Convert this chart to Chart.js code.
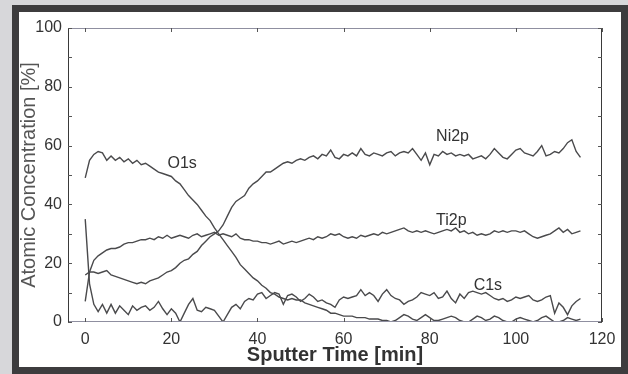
<!DOCTYPE html>
<html>
<head>
<meta charset="utf-8">
<script src="https://cdn.jsdelivr.net/npm/chart.js@4/dist/chart.umd.min.js"></script>
<style>
  html, body { margin:0; padding:0; }
  body { width:628px; height:374px; background:#d7d7da; position:relative; overflow:hidden; }
  #frame { position:absolute; left:12px; top:5px; width:602px; height:355px; border:7px solid #3d3c3e; background:#ffffff; }
  #wrap { position:absolute; left:0; top:0; width:628px; height:374px; }
</style>
</head>
<body>
<div id="frame"></div>
<div id="wrap"><canvas id="c" width="628" height="374"></canvas></div>
<script>
// ---- data ----
const time = [0,1,2,3,4,5,6,7,8,9,10,11,12,13,14,15,16,17,18,19,20,21,22,23,24,25,26,27,28,29,
  30,31,32,33,34,35,36,37,38,39,40,41,42,43,44,45,46,47,48,49,50,51,52,53,54,55,56,57,58,59,
  60,61,62,63,64,65,66,67,68,69,70,71,72,73,74,75,76,77,78,79,80,81,82,83,84,85,86,87,88,89,
  90,91,92,93,94,95,96,97,98,99,100,101,102,103,104,105,106,107,108,109,110,111,112,113,114,115];

const O1s = [49,55,57,58,57.5,55,56.5,55,56,54.5,55.5,54,55,53.5,54,53,52,51,50.5,50,
  49.5,48,47,45,43,41.5,40,38,36,34.5,32,30,28,26,24,22,19.5,18,16.5,15,
  14,12.5,11.5,10,9.5,8.5,8,7.5,8,7.5,7.5,6.5,6,5.5,5,4.5,4,3,3,2.5,
  2,2,2,1.5,1.5,1.5,1,1,1,0.5,0.5,0,0.5,1.5,2.5,2,1,0.5,1.5,2.5,
  1.5,0.5,0.5,1,1.5,2,1.5,0.5,0,0,1,2,1.5,0.5,1,2,1.5,0.5,0,0,
  1,1.5,1,0.5,0,0.5,1.5,2,1,0,0,0.5,1.5,1,0.5,1];

const Ni2p = [16,17,17,16.5,17,17.5,16,15.5,15,14.5,14,13.5,13,13.5,13,14,14.5,15,16,17,
  17.5,18.5,20,21,21.5,23,24,26,27.5,29,30,31,33,36,39,41,42,43,45.5,47,
  48,49.5,51,51,52,53,54,54.5,54,55,55.5,55,56,56.5,55.5,57,56.5,58.5,56,55.5,
  57,56.5,57.5,56.5,59,57,56.5,57.5,57,56.5,57.5,58,56.5,57.5,58,57.5,59,57,55,57.5,
  53.5,57,56.5,58,57,57.5,56.5,57,56.5,57,55.5,56,56.5,55.5,57,59,57.5,56,55.5,57,
  58.5,59,57.5,57,56.5,58,60,56.5,57,58,57.5,59,61,62,58,56];

const Ti2p = [7,17,21,22.5,23.5,24.5,25,25,25.5,26.5,27,27,27.5,28,28,28.5,28,29,28.5,29.5,
  28.5,29,29.5,29,28.5,29.5,30,29,29.5,30,30.5,29.5,30,29.5,29,30,28.5,28,28,27.5,
  27.5,27,27,26.5,27,27.5,26.5,27,27.5,27,27.5,28,28.5,28,29,28.5,29,30,29.5,30,
  29,28.5,29,28.5,29.5,29,29.5,30,29.5,30.5,30,30.5,31,31.5,32,31,30.5,31,30.5,31,
  30.5,30,30.5,31,31.5,31,32,30.5,31,30,30.5,29.5,30,29.5,30,31,30.5,31,30.5,31,
  31,30.5,31,30,29,28.5,29,29.5,30,31,32,30.5,31.5,30,30.5,31];

const C1s = [35,13,6,3.5,6,3,6,3,5.5,4,2.5,5.5,4,5,5.5,4,5,7,4.5,2.5,
  4.5,3,0,3,6,8,4,3.5,5,4.5,4,2,0,2.5,5,6,4.5,7,8,7.5,
  9.5,10,8,9,10,9.5,6,9,9.5,8.5,7,8,9.5,8.5,7,7.5,6.5,6,5,7.5,
  8.5,8,8.5,9,11,9,10,9,7,9.5,11,9,8,7.5,6,7,7.5,8.5,10,9.5,
  9,10,8,8.5,10.5,8,6.5,9.5,8,10,10.5,10,9.5,10,9,8,7.5,8,7,7.5,
  8.5,8,8.5,9,7.5,7,7.5,8.5,9,3,6.5,5,2.5,5.5,7,8];

const seriesNames = ['O1s','Ni2p','Ti2p','C1s'];
const seriesValues = [O1s, Ni2p, Ti2p, C1s];
const xTicks = [0,20,40,60,80,100,120];
const yTicks = [0,20,40,60,80,100];
const yMinorTicks = [0,10,20,30,40,50,60,70,80,90,100];
// label anchors in data units (time, %)
const labelTime = [22.5, 85.3, 85, 93.5];
const labelValue = [54, 63, 34.6, 12.3];

// ---- chart ----
const LINE = '#4a4a4c';
const datasets = seriesNames.map((n, k) => ({
  label: n,
  data: time.map((t, i) => ({x: t, y: seriesValues[k][i]})),
  borderColor: LINE,
  borderWidth: 1.4,
  pointRadius: 0,
  tension: 0,
  fill: false
}));

const framePlugin = {
  id: 'frameTicks',
  afterDatasetsDraw(chart) {
    const {ctx, chartArea: a, scales: {x, y}} = chart;
    ctx.save();
    ctx.lineWidth = 1;
    // box
    ctx.strokeStyle = '#8f8fa0';
    ctx.beginPath();
    ctx.moveTo(a.left, a.top + 0.5); ctx.lineTo(a.right, a.top + 0.5);
    ctx.moveTo(a.left, a.bottom - 0.5); ctx.lineTo(a.right, a.bottom - 0.5);
    ctx.stroke();
    ctx.strokeStyle = '#3a3a3a';
    ctx.beginPath();
    ctx.moveTo(a.left + 0.5, a.top); ctx.lineTo(a.left + 0.5, a.bottom);
    ctx.moveTo(a.right - 0.5, a.top); ctx.lineTo(a.right - 0.5, a.bottom);
    ctx.stroke();
    // inward ticks
    ctx.strokeStyle = '#555';
    ctx.beginPath();
    xTicks.forEach(v => {
      const px = Math.round(x.getPixelForValue(v)) + 0.5;
      ctx.moveTo(px, a.bottom); ctx.lineTo(px, a.bottom - 4);
      ctx.moveTo(px, a.top); ctx.lineTo(px, a.top + 4);
    });
    yMinorTicks.forEach(v => {
      const py = Math.round(y.getPixelForValue(v)) + 0.5;
      ctx.moveTo(a.left, py); ctx.lineTo(a.left + 4, py);
      ctx.moveTo(a.right, py); ctx.lineTo(a.right - 4, py);
    });
    ctx.stroke();
    // series labels
    ctx.fillStyle = '#333';
    ctx.font = '16px "Liberation Sans", Arial, sans-serif';
    ctx.textAlign = 'center';
    ctx.textBaseline = 'middle';
    seriesNames.forEach((n, k) => {
      ctx.fillText(n, x.getPixelForValue(labelTime[k]), y.getPixelForValue(labelValue[k]));
    });
    ctx.restore();
  }
};

new Chart(document.getElementById('c'), {
  type: 'line',
  data: { datasets },
  plugins: [framePlugin],
  options: {
    responsive: false,
    animation: false,
    devicePixelRatio: 1,
    layout: { padding: { left: 17, top: 28, right: 26, bottom: 7 } },
    plugins: { legend: { display: false }, tooltip: { enabled: false } },
    scales: {
      x: {
        type: 'linear', min: -4, max: 120,
        afterBuildTicks: s => { s.ticks = xTicks.map(v => ({value: v})); },
        afterFit: s => { s.height = 45; },
        grid: { display: false, drawTicks: false },
        border: { display: false },
        ticks: { padding: 8, color: '#333', font: { family: '"Liberation Sans", Arial, sans-serif', size: 16 }, maxRotation: 0 },
        title: { display: true, text: 'Sputter Time [min]', color: '#333', padding: 0,
                 font: { family: '"Liberation Sans", Arial, sans-serif', size: 20, weight: 'bold' } }
      },
      y: {
        type: 'linear', min: 0, max: 100,
        afterBuildTicks: s => { s.ticks = yTicks.map(v => ({value: v})); },
        afterFit: s => { s.width = 51; },
        grid: { display: false, drawTicks: false },
        border: { display: false },
        ticks: { padding: 6, color: '#333', font: { family: '"Liberation Sans", Arial, sans-serif', size: 16 } },
        title: { display: true, text: 'Atomic Concentration [%]', color: '#555', padding: 0,
                 font: { family: '"Liberation Sans", Arial, sans-serif', size: 20 } }
      }
    }
  }
});
</script>
</body>
</html>
